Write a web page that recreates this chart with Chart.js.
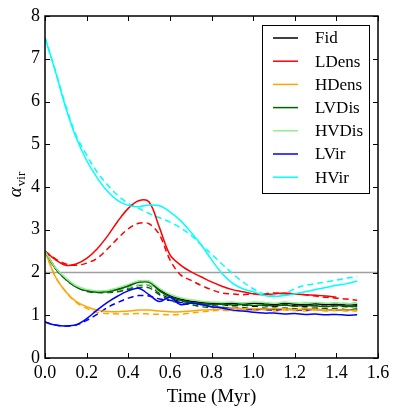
<!DOCTYPE html>
<html><head><meta charset="utf-8">
<script src="https://cdn.jsdelivr.net/npm/chart.js@4/dist/chart.umd.min.js"></script>
<style>html,body{margin:0;padding:0;background:#fff}#c{display:block}</style>
</head><body>
<canvas id="c" width="399" height="415"></canvas>
<script>
const times = [0,0.05,0.1,0.15,0.2,0.25,0.3,0.35,0.4,0.45,0.5,0.55,0.6,0.65,0.7,0.75,0.8,0.85,0.9,0.95,1.0,1.05,1.1,1.15,1.2,1.25,1.3,1.35,1.4,1.45,1.5];
const seriesNames = ['Fid','LDens','HDens','LVDis','HVDis','LVir','HVir'];
const seriesColors = ['#000000','#ff0000','#ffa500','#006400','#90ee90','#0000ff','#00ffff'];
const xTicks = [0,0.2,0.4,0.6,0.8,1.0,1.2,1.4,1.6];
const yTicks = [0,1,2,3,4,5,6,7,8];
const refLine = 2;

const fidSolid   = [2.5,2.1,1.85,1.67,1.58,1.55,1.56,1.62,1.7,1.79,1.79,1.6,1.46,1.38,1.33,1.3,1.28,1.27,1.28,1.26,1.28,1.27,1.25,1.28,1.26,1.25,1.27,1.25,1.26,1.24,1.25];
const fidDash    = [2.5,2.1,1.85,1.67,1.58,1.54,1.54,1.57,1.63,1.7,1.7,1.52,1.4,1.33,1.3,1.27,1.24,1.25,1.22,1.24,1.21,1.23,1.2,1.24,1.22,1.2,1.23,1.21,1.22,1.2,1.22];
const ldensSolid = [2.5,2.3,2.17,2.2,2.33,2.55,2.85,3.2,3.5,3.68,3.65,3.05,2.42,2.18,2.02,1.9,1.78,1.68,1.6,1.55,1.5,1.48,1.5,1.52,1.5,1.48,1.47,1.45,1.42,null,null];
const ldensDash  = [2.5,2.32,2.2,2.17,2.22,2.33,2.55,2.8,3.02,3.15,3.14,2.88,2.3,1.95,1.82,1.7,1.6,1.52,1.5,1.48,1.5,1.5,1.52,1.5,1.5,1.48,1.45,1.42,1.4,1.38,1.35];
const hdensSolid = [2.5,1.9,1.55,1.32,1.2,1.12,1.09,1.08,1.1,1.12,1.12,1.1,1.08,1.08,1.1,1.12,1.13,1.15,1.17,1.15,1.16,1.14,1.16,1.15,1.13,1.15,1.14,1.12,1.13,1.12,1.12];
const hdensDash  = [2.5,1.9,1.55,1.3,1.16,1.07,1.04,1.03,1.03,1.04,1.03,1.02,1.01,1.02,1.05,1.08,1.1,1.12,1.1,1.12,1.11,1.13,1.1,1.12,1.11,1.1,1.12,1.1,1.11,1.1,1.1];
const lvdisSolid = [2.5,2.1,1.84,1.66,1.57,1.54,1.55,1.6,1.68,1.77,1.77,1.57,1.43,1.35,1.3,1.27,1.25,1.26,1.24,1.25,1.23,1.24,1.22,1.24,1.21,1.23,1.22,1.2,1.23,1.21,1.2];
const lvdisDash  = [2.5,2.1,1.84,1.66,1.56,1.53,1.53,1.55,1.6,1.65,1.64,1.48,1.35,1.28,1.25,1.2,1.18,1.19,1.16,1.18,1.15,1.17,1.14,1.17,1.15,1.14,1.17,1.15,1.16,1.13,1.15];
const hvdisSolid = [2.5,2.11,1.87,1.69,1.6,1.57,1.58,1.64,1.72,1.8,1.8,1.63,1.49,1.41,1.36,1.33,1.31,1.3,1.31,1.29,1.31,1.3,1.28,1.31,1.29,1.28,1.3,1.28,1.29,1.27,1.28];
const hvdisDash  = [2.5,2.11,1.86,1.68,1.59,1.55,1.55,1.58,1.64,1.71,1.71,1.54,1.42,1.36,1.32,1.29,1.28,1.3,1.27,1.29,1.28,1.3,1.27,1.3,1.28,1.3,1.29,1.27,1.3,1.28,1.3];
const lvirSolid  = [0.84,0.77,0.75,0.78,0.92,1.12,1.3,1.45,1.57,1.63,1.48,1.32,1.42,1.25,1.28,1.25,1.2,1.17,1.12,1.1,1.07,1.05,1.05,1.03,1.04,1.02,1.03,1.01,1.02,1.0,1.01];
const lvirDash   = [0.84,0.77,0.75,0.77,0.88,1.02,1.18,1.3,1.4,1.46,1.45,1.38,1.35,1.3,1.3,1.25,1.2,1.18,1.16,1.15,1.13,1.14,1.12,1.14,1.13,1.12,1.14,1.12,1.13,1.12,1.13];
const hvirSolid  = [7.5,6.7,5.85,5.15,4.62,4.22,3.9,3.68,3.57,3.54,3.58,3.56,3.42,3.22,2.95,2.65,2.3,1.98,1.75,1.62,1.55,1.47,1.44,1.46,1.5,1.55,1.6,1.65,1.7,1.74,1.8];
const hvirDash   = [7.5,6.72,5.9,5.2,4.75,4.35,4.05,3.8,3.62,3.5,3.38,3.28,3.18,3.05,2.88,2.65,2.43,2.2,1.98,1.78,1.62,1.5,1.45,1.5,1.62,1.7,1.74,1.78,1.82,1.87,1.9];

const solids = [fidSolid,ldensSolid,hdensSolid,lvdisSolid,hvdisSolid,lvirSolid,hvirSolid];
const dashes = [fidDash,ldensDash,hdensDash,lvdisDash,hvdisDash,lvirDash,hvirDash];

const toXY = arr => arr.map((v,i)=>({x:times[i], y:v}));
const datasets = [];
seriesNames.forEach((name,i)=>{
  datasets.push({label:name+' dashed', data:toXY(dashes[i]), borderColor:seriesColors[i], borderWidth:1.5, borderDash:[6,4], pointRadius:0, tension:0.35, fill:false, order:20-i});
});
seriesNames.forEach((name,i)=>{
  datasets.push({label:name, data:toXY(solids[i]), borderColor:seriesColors[i], borderWidth:1.5, pointRadius:0, tension:0.35, fill:false, order:10-i});
});

const FONT = '"Liberation Serif", "Times New Roman", serif';

const framePlugin = {
  id:'frame',
  beforeDatasetsDraw(chart){
    const {ctx, chartArea:a, scales:{y}} = chart;
    const py = y.getPixelForValue(refLine);
    ctx.save();
    ctx.strokeStyle = '#a0a0a0'; ctx.lineWidth = 1.5;
    ctx.beginPath(); ctx.moveTo(a.left, py); ctx.lineTo(a.right, py); ctx.stroke();
    ctx.restore();
  },
  afterDraw(chart){
    const {ctx, chartArea:a, scales:{x,y}} = chart;
    ctx.save();
    ctx.strokeStyle = '#000'; ctx.lineWidth = 1;
    const tl = 5;
    xTicks.forEach(v=>{
      const px = Math.round(x.getPixelForValue(v))+0.5;
      ctx.beginPath(); ctx.moveTo(px,a.bottom); ctx.lineTo(px,a.bottom-tl); ctx.moveTo(px,a.top); ctx.lineTo(px,a.top+tl); ctx.stroke();
    });
    yTicks.forEach(v=>{
      const py = Math.round(y.getPixelForValue(v))+0.5;
      ctx.beginPath(); ctx.moveTo(a.left,py); ctx.lineTo(a.left+tl,py); ctx.moveTo(a.right,py); ctx.lineTo(a.right-tl,py); ctx.stroke();
    });
    ctx.lineWidth = 1.5;
    ctx.strokeRect(a.left, a.top, a.right-a.left, a.bottom-a.top);
    // legend
    const lx = 262, ly = 25, lw = 107, lh = 168;
    ctx.fillStyle = '#fff'; ctx.fillRect(lx,ly,lw,lh);
    ctx.lineWidth = 1; ctx.strokeStyle = '#000';
    ctx.strokeRect(lx+0.5, ly+0.5, lw, lh);
    ctx.font = '17px ' + FONT; ctx.textBaseline = 'middle'; ctx.textAlign = 'left';
    seriesNames.forEach((n,i)=>{
      const yy = 38 + i*23.2;
      ctx.strokeStyle = seriesColors[i]; ctx.lineWidth = 1.5;
      ctx.beginPath(); ctx.moveTo(273, yy); ctx.lineTo(298, yy); ctx.stroke();
      ctx.fillStyle = '#000'; ctx.fillText(n, 315, yy+1);
    });
    // y title: alpha_vir
    ctx.translate(16, 185); ctx.rotate(-Math.PI/2);
    ctx.fillStyle = '#000'; ctx.textBaseline = 'alphabetic'; ctx.textAlign = 'left';
    ctx.font = 'italic 19px ' + FONT;
    const aw = ctx.measureText('α').width;
    const sub = 'vir';
    ctx.font = '13px ' + FONT;
    const sw = ctx.measureText(sub).width;
    const start = -(aw+sw)/2;
    ctx.font = 'italic 19px ' + FONT;
    ctx.fillText('α', start, 5);
    ctx.font = '13px ' + FONT;
    ctx.fillText(sub, start+aw+1, 9);
    ctx.restore();
  }
};

new Chart(document.getElementById('c'), {
  type:'line',
  data:{datasets},
  options:{
    responsive:false, animation:false,
    layout:{padding:{left:0,right:21,top:16,bottom:7}},
    plugins:{legend:{display:false}, tooltip:{enabled:false}},
    scales:{
      x:{type:'linear', min:0, max:1.6,
         afterBuildTicks(s){ s.ticks = xTicks.map(v=>({value:v})); },
         afterFit(s){ s.height = 415-358-7; },
         grid:{display:false, drawTicks:false}, border:{display:false},
         ticks:{color:'#000', padding:4, font:{family:FONT, size:18}, maxRotation:0, callback:v=>v.toFixed(1)},
         title:{display:true, text:'Time (Myr)', color:'#000', font:{family:FONT, size:19}, padding:{top:2,bottom:0}}
      },
      y:{min:0, max:8,
         afterBuildTicks(s){ s.ticks = yTicks.map(v=>({value:v})); },
         afterFit(s){ s.width = 45; },
         grid:{display:false, drawTicks:false}, border:{display:false},
         ticks:{color:'#000', padding:5, font:{family:FONT, size:18}, callback:v=>String(v)}
      }
    }
  },
  plugins:[framePlugin]
});
</script>
</body></html>
